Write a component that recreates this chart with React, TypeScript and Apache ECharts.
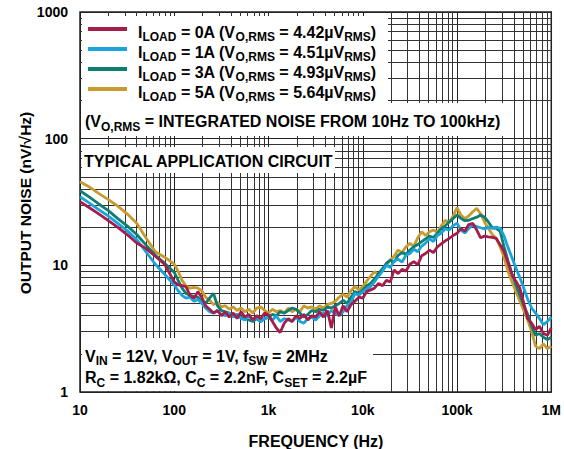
import React, { useEffect, useRef } from 'react';
import * as echarts from 'echarts';

const freqs = [10, 12.6, 15.8, 20, 25, 31.6, 40, 50, 63, 79,
  100, 110, 121, 133, 147, 162, 178, 196, 215, 237, 261, 287, 316, 348, 383, 422, 464, 511, 562, 619, 681, 750, 825, 909,
  1000, 1100, 1210, 1330, 1470, 1620, 1780, 1960, 2150, 2370, 2610, 2870, 3160, 3480, 3830, 4220, 4640, 5110, 5620, 6190, 6810, 7500, 8250, 9090,
  10000, 11000, 12100, 13300, 14700, 16200, 17800, 19600, 21500, 23700, 26100, 28700, 31600, 34800, 38300, 42200, 46400, 51100, 56200, 61900, 68100, 75000, 82500, 90900,
  100000, 110000, 121000, 133000, 147000, 162000, 178000, 196000, 215000, 237000, 261000, 287000, 316000, 348000, 383000, 422000, 464000, 511000, 562000, 619000, 681000, 750000, 825000, 909000, 1000000];

const noise0A = [31.8, 28.5, 25.5, 22.5, 20, 17.5, 15, 13.6, 11.8, 10.2,
  7.4, 7.0, 6.9, 6.8, 5.8, 5.5, 6.2, 5.6, 4.8, 4.5, 4.2, 4.4, 4.0, 4.3, 3.9, 4.2, 3.8, 4.3, 3.9, 4.1, 3.7, 4.0, 3.8, 4.2,
  4.05, 3.6, 3.2, 2.95, 3.5, 3.8, 3.6, 4.0, 3.8, 4.1, 3.7, 4.0, 3.9, 4.3, 3.9, 4.4, 3.2, 4.7, 4.0, 4.8, 4.3, 4.9, 5.2, 5.6,
  5.5, 6.2, 6.4, 6.6, 7.2, 6.9, 7.6, 7.4, 9.2, 8.6, 9.3, 9.0, 10.2, 10.7, 10.1, 11.9, 12.4, 13.2, 12.6, 14.0, 14.8, 15.6, 16.3, 17.2,
  17.9, 19.5, 18.6, 21.0, 21.4, 19.0, 16.5, 17.0, 16.8, 16.6, 16.3, 14.5, 12.8, 10.5, 8.4, 7.5, 6.6, 5.0, 3.8, 3.5, 3.1, 3.3, 2.9, 2.8, 3.2];

const noise1A = [34.8, 31, 27.5, 24.5, 21.5, 18.8, 16, 12.8, 10.2, 8.5,
  7.0, 6.3, 5.8, 5.5, 5.6, 5.2, 5.4, 5.0, 4.6, 4.3, 4.2, 4.4, 4.1, 4.0, 4.2, 3.9, 4.1, 3.8, 3.7, 4.0, 3.7, 3.9, 3.6, 3.8,
  3.9, 3.7, 4.0, 3.6, 3.8, 3.7, 3.6, 3.9, 3.6, 3.5, 3.8, 3.9, 3.7, 4.0, 4.2, 4.0, 4.4, 4.2, 4.0, 4.3, 4.8, 5.1, 6.0, 5.8,
  6.2, 6.5, 6.8, 7.4, 8.2, 9.0, 10.0, 9.6, 10.8, 11.2, 10.6, 12.0, 12.4, 13.4, 12.8, 14.2, 15.0, 16.2, 15.4, 17.2, 18.0, 19.4, 19.0, 20.6,
  21.5, 19.0, 18.0, 19.5, 20.8, 20.2, 19.8, 19.4, 20.0, 19.6, 20.0, 19.6, 17.0, 13.8, 11.5, 9.5, 8.0, 6.6, 5.4, 4.6, 4.2, 3.8, 3.4, 3.6, 3.9];

const noise3A = [38.8, 34.5, 30.5, 27, 23.5, 20.5, 17.5, 14.5, 12.0, 10.4,
  8.8, 7.6, 6.6, 6.0, 5.8, 5.7, 5.6, 5.2, 5.0, 5.5, 6.0, 4.8, 4.4, 4.3, 4.2, 4.0, 4.1, 3.9, 3.8, 3.7, 3.6, 3.8, 3.6, 3.8,
  3.9, 4.1, 4.0, 4.3, 4.2, 4.4, 4.6, 4.5, 4.2, 3.9, 4.1, 4.4, 4.3, 4.5, 4.4, 4.7, 4.6, 4.8, 5.0, 5.3, 5.0, 5.6, 6.2, 6.0,
  6.4, 6.9, 7.2, 7.8, 8.6, 9.4, 10.4, 11.0, 10.6, 12.0, 12.6, 12.2, 13.2, 14.0, 14.6, 15.4, 16.2, 17.0, 16.6, 17.9, 19.5, 20.5, 22.0, 23.4,
  25.0, 23.5, 22.5, 22.7, 23.4, 24.0, 25.0, 24.0, 22.0, 19.8, 19.6, 18.5, 14.0, 10.8, 8.6, 7.0, 5.8, 4.8, 4.1, 3.3, 2.8, 2.9, 2.7, 2.6, 2.7];

const noise5A = [45.7, 41.5, 37, 33, 29.5, 25.5, 21.5, 16.5, 12.8, 11.6,
  10.2, 9.0, 7.6, 6.9, 6.6, 6.7, 6.6, 6.3, 5.6, 5.3, 4.9, 5.1, 4.7, 4.8, 4.5, 4.7, 4.4, 4.6, 4.3, 4.5, 4.2, 4.6, 4.7, 4.4,
  4.2, 4.5, 4.3, 4.4, 4.2, 4.6, 4.3, 4.5, 4.3, 4.8, 4.6, 4.7, 4.5, 4.8, 4.6, 4.9, 5.0, 5.2, 5.6, 5.9, 5.6, 6.3, 6.8, 6.4,
  6.8, 7.5, 8.2, 8.9, 8.5, 9.4, 10.0, 11.0, 11.8, 13.2, 12.6, 14.0, 14.9, 14.2, 16.5, 18.4, 17.2, 18.4, 19.0, 18.2, 20.5, 22.7, 21.8, 24.5,
  28.5, 25.0, 23.4, 24.5, 26.5, 28.2, 25.5, 22.0, 19.5, 17.5, 16.3, 14.0, 11.5, 8.9, 7.4, 6.2, 5.2, 4.4, 3.7, 3.0, 2.3, 2.2, 2.4, 2.2, 2.3];

const loadLabels = ['0A', '1A', '3A', '5A'];
const rmsLabels = ['4.42', '4.51', '4.93', '5.64'];
const seriesColors = ['#A51D4D', '#1BA4DB', '#0F7E72', '#C89B2F'];
const noiseSeries = [noise0A, noise1A, noise3A, noise5A];

const xTickLabels: Record<string, string> = { '10': '10', '100': '100', '1000': '1k', '10000': '10k', '100000': '100k', '1000000': '1M' };
const minorX = [20, 30, 40, 50, 60, 70, 80, 90, 200, 300, 400, 500, 600, 700, 800, 900,
  2000, 3000, 4000, 5000, 6000, 7000, 8000, 9000, 20000, 30000, 40000, 50000, 60000, 70000, 80000, 90000,
  200000, 300000, 400000, 500000, 600000, 700000, 800000, 900000];
const minorY = [2, 3, 4, 5, 6, 7, 8, 9, 20, 30, 40, 50, 60, 70, 80, 90, 200, 300, 400, 500, 600, 700, 800, 900];

const FONT = 'Liberation Sans, Arial, sans-serif';

export default function App() {
  const ref = useRef<HTMLDivElement>(null);
  useEffect(() => {
    if (!ref.current) return;
    const chart = echarts.init(ref.current, null, { renderer: 'svg' });
    const seriesName = (i: number) => 'ILOAD = ' + loadLabels[i];
    const legendRich = {
      p: { fontSize: 16, lineHeight: 18, fontFamily: FONT, fontWeight: 'bold', color: '#000', width: 6 },
      b: { fontSize: 16, lineHeight: 18, padding: [6, 0, 0, 0], fontFamily: FONT, fontWeight: 'bold', color: '#000' },
      s: { fontSize: 12, lineHeight: 14, padding: [16, 0, 0, 0], fontFamily: FONT, fontWeight: 'bold', color: '#000' },
    };
    const gRich = {
      b: { fontSize: 16, lineHeight: 18, padding: [6, 0, 0, 0], fontFamily: FONT, fontWeight: 'bold', fill: '#000' },
      s: { fontSize: 12, lineHeight: 14, padding: [16, 0, 0, 0], fontFamily: FONT, fontWeight: 'bold', fill: '#000' },
    };
    const order = [3, 2, 1, 0];
    const dataSeries = order.map((i) => ({
      name: seriesName(i),
      type: 'line',
      z: 3,
      showSymbol: false,
      symbol: 'none',
      data: freqs.map((f, k) => [f, noiseSeries[i][k]]),
      lineStyle: { color: seriesColors[i], width: 2.8 },
      itemStyle: { color: seriesColors[i] },
    }));
    const option: any = {
      animation: false,
      grid: { left: 80, top: 12, width: 475, height: 380, show: true, borderColor: '#222', borderWidth: 1.5, backgroundColor: 'transparent' },
      xAxis: {
        type: 'log', logBase: 10, min: 10, max: 1000000,
        axisLine: { show: false }, axisTick: { show: false },
        splitLine: { show: true, lineStyle: { color: '#222', width: 1 } },
        axisLabel: {
          margin: 11, fontSize: 14, fontWeight: 'bold', fontFamily: FONT, color: '#000',
          formatter: (v: number) => xTickLabels[String(Math.round(v))] ?? '',
        },
      },
      yAxis: {
        type: 'log', logBase: 10, min: 1, max: 1000,
        axisLine: { show: false }, axisTick: { show: false },
        splitLine: { show: true, lineStyle: { color: '#222', width: 1 } },
        axisLabel: {
          margin: 12, fontSize: 14, fontWeight: 'bold', fontFamily: FONT, color: '#000',
          formatter: (v: number) => String(Math.round(v)),
        },
      },
      legend: {
        show: true, orient: 'vertical', left: 88, top: 15, padding: 0, itemGap: -8, z: 20,
        itemWidth: 39, itemHeight: 4, icon: 'rect',
        data: loadLabels.map((_, i) => seriesName(i)),
        selectedMode: false,
        formatter: (name: string) => {
          const i = loadLabels.findIndex((_, k) => seriesName(k) === name);
          return `{p| }{b|I}{s|LOAD}{b| = ${loadLabels[i]} (V}{s|O,RMS}{b| = ${rmsLabels[i]}µV}{s|RMS}{b|)}`;
        },
        textStyle: { rich: legendRich, fontFamily: FONT, fontWeight: 'bold', fontSize: 16, color: '#000' },
      },
      graphic: [
        { type: 'rect', z: 10, shape: { x: 82, y: 16, width: 306, height: 88 }, style: { fill: '#fff' } },
        { type: 'rect', z: 10, shape: { x: 82, y: 103, width: 421, height: 33 }, style: { fill: '#fff' } },
        { type: 'rect', z: 10, shape: { x: 82, y: 147, width: 253, height: 26 }, style: { fill: '#fff' } },
        { type: 'rect', z: 10, shape: { x: 82, y: 338, width: 291, height: 53 }, style: { fill: '#fff' } },
        {
          type: 'text', z: 11, x: 85, y: 118.5,
          style: { text: '{b|(V}{s|O,RMS}{b| = INTEGRATED NOISE FROM 10Hz TO 100kHz)}', rich: gRich, verticalAlign: 'middle', align: 'left', fill: '#000' },
        },
        {
          type: 'text', z: 11, x: 84, y: 161.5,
          style: { text: 'TYPICAL APPLICATION CIRCUIT', font: `bold 16px ${FONT}`, verticalAlign: 'middle', align: 'left', fill: '#000' },
        },
        {
          type: 'text', z: 11, x: 85, y: 353,
          style: { text: '{b|V}{s|IN}{b| = 12V, V}{s|OUT}{b| = 1V, f}{s|SW}{b| = 2MHz}', rich: gRich, verticalAlign: 'middle', align: 'left', fill: '#000' },
        },
        {
          type: 'text', z: 11, x: 85, y: 374.5,
          style: { text: '{b|R}{s|C}{b| = 1.82kΩ, C}{s|C}{b| = 2.2nF, C}{s|SET}{b| = 2.2µF}', rich: gRich, verticalAlign: 'middle', align: 'left', fill: '#000' },
        },
        {
          type: 'text', z: 11, x: 316, y: 441,
          style: { text: 'FREQUENCY (Hz)', font: `bold 16px ${FONT}`, verticalAlign: 'middle', align: 'center', fill: '#000' },
        },
        {
          type: 'text', z: 11, x: 25, y: 203, rotation: Math.PI / 2,
          style: { text: 'OUTPUT NOISE (nV/√Hz)', font: `bold 15.5px ${FONT}`, verticalAlign: 'middle', align: 'center', fill: '#000' },
        },
      ],
      series: [
        {
          type: 'line', z: 1, showSymbol: false, symbol: 'none', silent: true,
          data: [[10, 1]], lineStyle: { opacity: 0 },
          markLine: {
            z: 1, silent: true, symbol: ['none', 'none'], animation: false,
            label: { show: false },
            lineStyle: { color: '#333', width: 1, type: 'solid' },
            emphasis: { disabled: true },
            data: [...minorX.map((v) => ({ xAxis: v })), ...minorY.map((v) => ({ yAxis: v }))],
          },
        },
        ...dataSeries,
      ],
    };
    chart.setOption(option);
    return () => chart.dispose();
  }, []);
  return <div ref={ref} style={{ position: 'absolute', left: 0, top: 0, width: 564, height: 449, background: '#fff' }} />;
}
